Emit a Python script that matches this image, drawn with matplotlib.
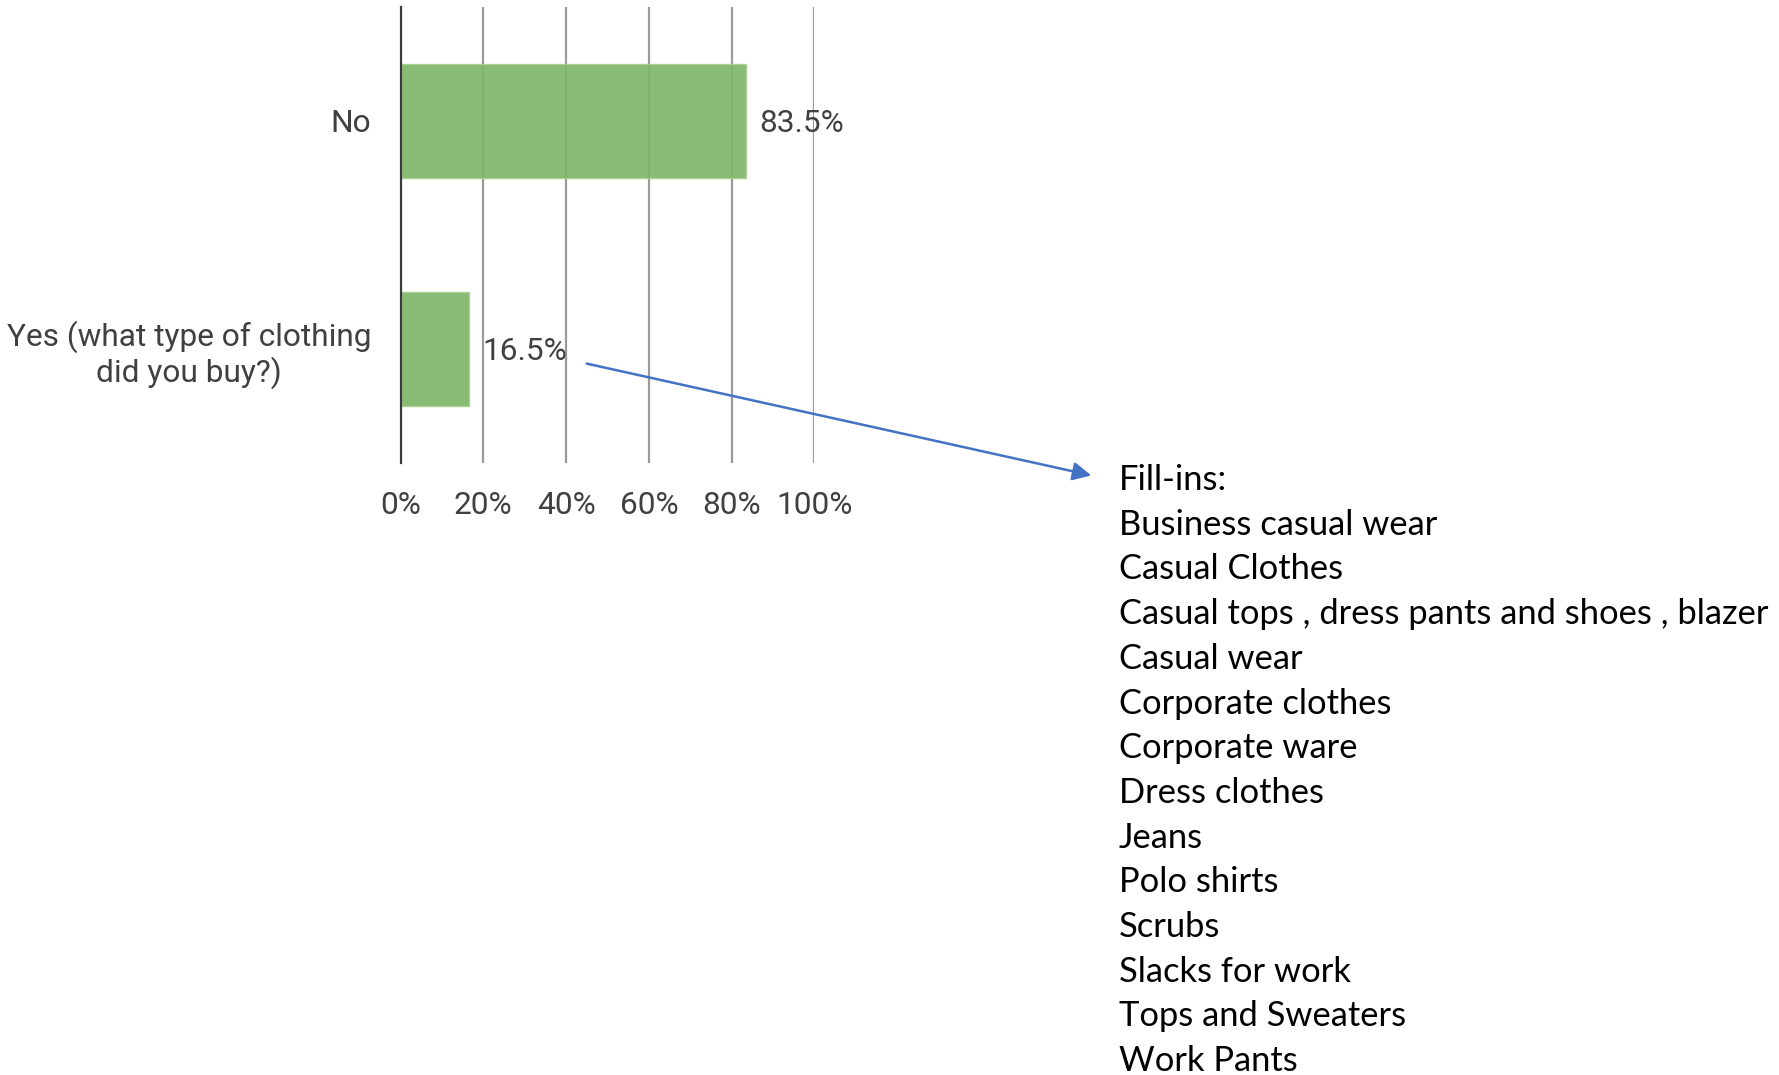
import matplotlib
matplotlib.use("Agg")
import matplotlib.pyplot as plt
from matplotlib.patches import FancyArrowPatch

categories = ["No", "Yes (what type of clothing\ndid you buy?)"]
values = [0.835, 0.165]
value_labels = ["83.5%", "16.5%"]
xticks = [0, 0.2, 0.4, 0.6, 0.8, 1.0]
xtick_labels = ["0%", "20%", "40%", "60%", "80%", "100%"]
fill_ins = ["Fill-ins:", "Business casual wear", "Casual Clothes",
            "Casual tops , dress pants and shoes , blazer", "Casual wear",
            "Corporate clothes", "Corporate ware", "Dress clothes", "Jeans",
            "Polo shirts", "Scrubs", "Slacks for work", "Tops and Sweaters",
            "Work Pants"]

W, H = 1779, 1075
fig = plt.figure(figsize=(W / 100, H / 100), dpi=100)
ax = fig.add_axes([400.5 / W, 1 - 463 / H, 414 / W, 456 / H])

text_color = "#404040"
chart_font = "Roboto"
fs = 22.8
ypos = list(range(len(categories)))
ax.barh(ypos, values, height=0.5, color="#7DB66A", alpha=0.92,
        edgecolor="#A9D18E", linewidth=1.0, zorder=1)
ax.set_ylim(1.5, -0.5)
ax.set_xlim(0, 1)

for x in xticks[1:]:
    ax.axvline(x, color="#9A9A9A", linewidth=1.6, zorder=0)

for y, v, lab in zip(ypos, values, value_labels):
    ax.annotate(lab, (v, y), xytext=(9.5, -1.5), textcoords="offset points",
                va="center", ha="left", fontsize=fs, color=text_color,
                family=chart_font)

ax.set_yticks(ypos)
ax.set_yticklabels(categories, fontsize=fs, color=text_color,
                   family=chart_font, multialignment="center",
                   linespacing=1.15)
ax.set_xticks(xticks)
ax.set_xticklabels(xtick_labels, fontsize=fs, color=text_color,
                   family=chart_font)
ax.tick_params(axis="both", length=0)
ax.tick_params(axis="y", pad=21)
ax.tick_params(axis="x", pad=20)

for s in ["top", "right", "bottom"]:
    ax.spines[s].set_visible(False)
ax.spines["left"].set_color("#3A3A3A")
ax.spines["left"].set_linewidth(1.6)
ax.spines["left"].set_zorder(3)

# fill-in list
x0 = 1119 / W
y0 = 480
dy = 44.7
for i, line in enumerate(fill_ins):
    fig.text(x0, 1 - (y0 + i * dy) / H, line, fontsize=24.8, family="Lato",
             color="black", va="center", ha="left")

arrow = FancyArrowPatch((584 / W, 1 - 363 / H), (1094 / W, 1 - 476 / H),
                        transform=fig.transFigure, arrowstyle="-|>",
                        mutation_scale=28, color="#4472C4", linewidth=1.8)
fig.add_artist(arrow)

fig.savefig("out.png", dpi=100, facecolor="white")
